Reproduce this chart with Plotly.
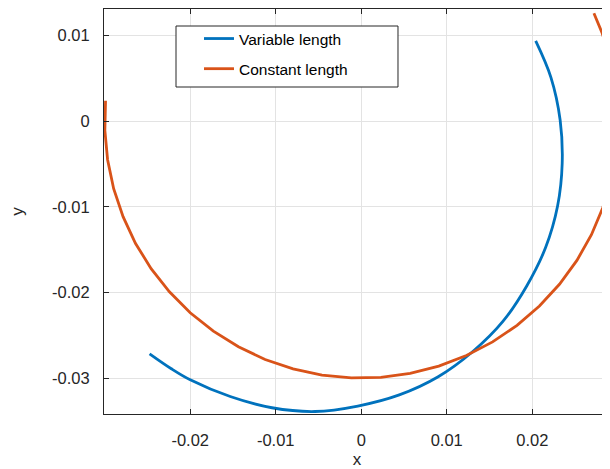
import plotly.graph_objects as go

# Variable length curve
var_x = [-0.02475, -0.02221, -0.02000, -0.01532, -0.01044, -0.00540, -0.00040,
         0.00445, 0.00900, 0.01305, 0.01659, 0.01937, 0.02157, 0.02296,
         0.02350, 0.02326, 0.02218, 0.02040]
var_y = [-0.02716, -0.02890, -0.03019, -0.03215, -0.03346, -0.03390, -0.03326,
         -0.03196, -0.02984, -0.02689, -0.02335, -0.01920, -0.01472, -0.00990,
         -0.00490, 0.00015, 0.00514, 0.00940]

# Constant length curve
const_x = [-0.02990, -0.02998, -0.02966, -0.02895, -0.02785, -0.02639, -0.02457,
           -0.02243, -0.02000, -0.01729, -0.01436, -0.01124, -0.00797, -0.00459,
           -0.00115, 0.00230, 0.00572, 0.00907, 0.01230, 0.01536, 0.01822,
           0.02084, 0.02318, 0.02522, 0.02692, 0.02826, 0.02923, 0.02981,
           0.03000, 0.02979, 0.02918, 0.02819, 0.02721]
const_y = [0.00241, -0.00105, -0.00449, -0.00787, -0.01114, -0.01427, -0.01721,
           -0.01992, -0.02236, -0.02451, -0.02634, -0.02782, -0.02892, -0.02965,
           -0.02998, -0.02991, -0.02945, -0.02860, -0.02736, -0.02577, -0.02383,
           -0.02158, -0.01904, -0.01625, -0.01325, -0.01006, -0.00675, -0.00334,
           0.00010, 0.00355, 0.00695, 0.01026, 0.01263]

x_ticks = [-0.02, -0.01, 0, 0.01, 0.02]
x_tick_labels = ["-0.02", "-0.01", "0", "0.01", "0.02"]
y_ticks = [-0.03, -0.02, -0.01, 0, 0.01]
y_tick_labels = ["-0.03", "-0.02", "-0.01", "0", "0.01"]

FONT = "Liberation Sans, Arial, sans-serif"
AX = "#262626"
GRID = "#e3e3e3"

fig = go.Figure()
fig.add_trace(go.Scatter(x=var_x, y=var_y, mode="lines", name="Variable length",
                         line=dict(color="#0072BD", width=2.8, shape="spline", smoothing=1.0),
                         legendgroup="a"))
fig.add_trace(go.Scatter(x=const_x, y=const_y, mode="lines", name="Constant length",
                         line=dict(color="#D95319", width=2.8),
                         legendgroup="b"))

# legend frame
fig.add_shape(type="rect", xref="paper", yref="paper",
              x0=0.1423, x1=0.581, y0=0.8074, y1=0.958,
              line=dict(color=AX, width=1), fillcolor="white", layer="above")

fig.update_layout(
    width=602, height=461,
    margin=dict(l=96, r=0, t=1, b=55, autoexpand=False),
    paper_bgcolor="white", plot_bgcolor="white",
    font=dict(family=FONT, size=16.5, color=AX),
    showlegend=True,
    legend=dict(x=0.1877, y=0.968, xanchor="left", yanchor="top",
                bgcolor="rgba(0,0,0,0)", borderwidth=0,
                font=dict(family=FONT, size=15.5, color="black"),
                tracegroupgap=7),
)
fig.update_xaxes(
    range=[-0.03008, 0.02909], tickvals=x_ticks, ticktext=x_tick_labels,
    showgrid=True, gridcolor=GRID, zeroline=False,
    showline=True, linecolor=AX, linewidth=1, mirror="ticks",
    ticks="inside", ticklen=5, tickcolor=AX, ticklabelstandoff=11,
    title=dict(text="x", standoff=11, font=dict(size=17)),
)
fig.update_yaxes(
    range=[-0.03419, 0.01312], tickvals=y_ticks, ticktext=y_tick_labels,
    showgrid=True, gridcolor=GRID, zeroline=False,
    showline=True, linecolor=AX, linewidth=1, mirror=False,
    ticks="inside", ticklen=5, tickcolor=AX, ticklabelstandoff=10,
    title=dict(text="y", standoff=26, font=dict(size=17)),
)

fig.write_html("out.html")
